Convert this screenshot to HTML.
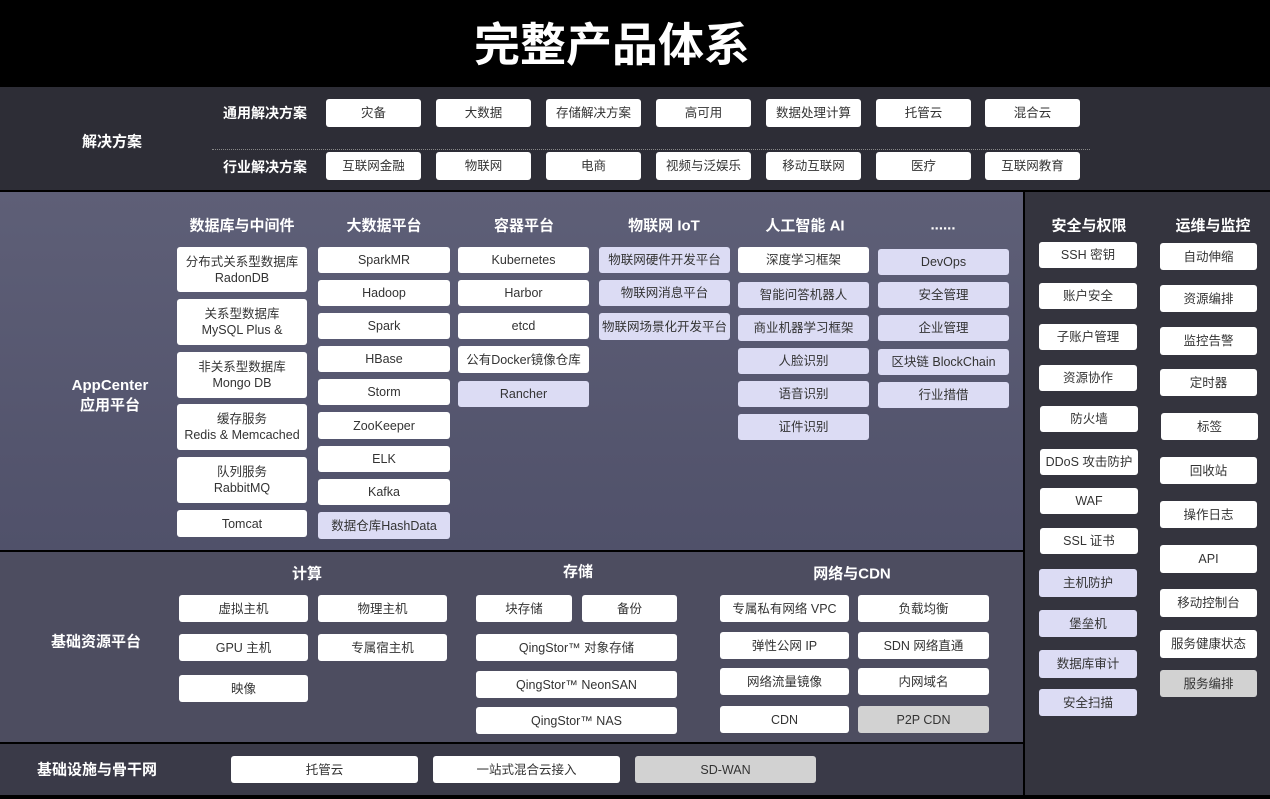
<!DOCTYPE html>
<html><head><meta charset="utf-8"><style>
*{margin:0;padding:0;box-sizing:border-box}
body{width:1270px;height:799px;background:#000;position:relative;overflow:hidden;font-family:"Liberation Sans","Noto Sans CJK SC",sans-serif}
.s{position:absolute}
.b{position:absolute;background:#fff;border-radius:3px;color:#333;font-size:12.5px;display:flex;align-items:center;justify-content:center;text-align:center;line-height:16px;white-space:nowrap}
.l{background:#dcdcf4}
.g{background:#d2d2d2}
.t{position:absolute;color:#fff;font-weight:bold;white-space:nowrap;transform:translate(-50%,-50%)}
</style></head><body>
<div class="t" style="left:612px;top:42px;font-size:46px">完整产品体系</div>
<div class="s" style="left:0;top:87px;width:1270px;height:103px;background:#2d2d36"></div>
<div class="s" style="left:0;top:192px;width:1023px;height:358px;background:linear-gradient(#5e5f77,#50516a)"></div>
<div class="s" style="left:0;top:552px;width:1023px;height:190px;background:#4d4d60"></div>
<div class="s" style="left:0;top:744px;width:1023px;height:51px;background:#3a3a48"></div>
<div class="s" style="left:1025px;top:192px;width:245px;height:603px;background:#34343e"></div>
<div class="s" style="left:212px;top:149px;width:878px;border-top:1px dotted #888"></div>

<div class="t" style="left:112px;top:141px;font-size:15px">解决方案</div>
<div class="t" style="left:265px;top:113px;font-size:14px">通用解决方案</div>
<div class="t" style="left:265px;top:167px;font-size:14px">行业解决方案</div>
<div class="b" style="left:326px;top:99px;width:95px;height:28px">灾备</div>
<div class="b" style="left:436px;top:99px;width:95px;height:28px">大数据</div>
<div class="b" style="left:546px;top:99px;width:95px;height:28px">存储解决方案</div>
<div class="b" style="left:656px;top:99px;width:95px;height:28px">高可用</div>
<div class="b" style="left:766px;top:99px;width:95px;height:28px">数据处理计算</div>
<div class="b" style="left:876px;top:99px;width:95px;height:28px">托管云</div>
<div class="b" style="left:985px;top:99px;width:95px;height:28px">混合云</div>
<div class="b" style="left:326px;top:152px;width:95px;height:28px">互联网金融</div>
<div class="b" style="left:436px;top:152px;width:95px;height:28px">物联网</div>
<div class="b" style="left:546px;top:152px;width:95px;height:28px">电商</div>
<div class="b" style="left:656px;top:152px;width:95px;height:28px">视频与泛娱乐</div>
<div class="b" style="left:766px;top:152px;width:95px;height:28px">移动互联网</div>
<div class="b" style="left:876px;top:152px;width:95px;height:28px">医疗</div>
<div class="b" style="left:985px;top:152px;width:95px;height:28px">互联网教育</div>

<div class="t" style="left:110px;top:396px;font-size:15px;text-align:center;line-height:20px">AppCenter<br>应用平台</div>
<div class="t" style="left:242px;top:225px;font-size:15px">数据库与中间件</div>
<div class="t" style="left:384px;top:225px;font-size:15px">大数据平台</div>
<div class="t" style="left:524px;top:225px;font-size:15px">容器平台</div>
<div class="t" style="left:664px;top:225px;font-size:15px">物联网 IoT</div>
<div class="t" style="left:805px;top:225px;font-size:15px">人工智能 AI</div>
<div class="t" style="left:943px;top:225px;font-size:15px">......</div>

<div class="b" style="left:177px;top:247px;width:130px;height:45px">分布式关系型数据库<br>RadonDB</div>
<div class="b" style="left:177px;top:299px;width:130px;height:46px">关系型数据库<br>MySQL Plus &amp;</div>
<div class="b" style="left:177px;top:352px;width:130px;height:46px">非关系型数据库<br>Mongo DB</div>
<div class="b" style="left:177px;top:404px;width:130px;height:46px">缓存服务<br>Redis &amp; Memcached</div>
<div class="b" style="left:177px;top:457px;width:130px;height:46px">队列服务<br>RabbitMQ</div>
<div class="b" style="left:177px;top:510px;width:130px;height:27px">Tomcat</div>

<div class="b" style="left:318px;top:247px;width:132px;height:26px">SparkMR</div>
<div class="b" style="left:318px;top:280px;width:132px;height:26px">Hadoop</div>
<div class="b" style="left:318px;top:313px;width:132px;height:26px">Spark</div>
<div class="b" style="left:318px;top:346px;width:132px;height:26px">HBase</div>
<div class="b" style="left:318px;top:379px;width:132px;height:26px">Storm</div>
<div class="b" style="left:318px;top:412px;width:132px;height:27px">ZooKeeper</div>
<div class="b" style="left:318px;top:446px;width:132px;height:26px">ELK</div>
<div class="b" style="left:318px;top:479px;width:132px;height:26px">Kafka</div>
<div class="b l" style="left:318px;top:512px;width:132px;height:27px">数据仓库HashData</div>

<div class="b" style="left:458px;top:247px;width:131px;height:26px">Kubernetes</div>
<div class="b" style="left:458px;top:280px;width:131px;height:26px">Harbor</div>
<div class="b" style="left:458px;top:313px;width:131px;height:26px">etcd</div>
<div class="b" style="left:458px;top:346px;width:131px;height:27px">公有Docker镜像仓库</div>
<div class="b l" style="left:458px;top:381px;width:131px;height:26px">Rancher</div>

<div class="b l" style="left:599px;top:247px;width:131px;height:26px">物联网硬件开发平台</div>
<div class="b l" style="left:599px;top:280px;width:131px;height:26px">物联网消息平台</div>
<div class="b l" style="left:599px;top:313px;width:131px;height:27px">物联网场景化开发平台</div>

<div class="b" style="left:738px;top:247px;width:131px;height:26px">深度学习框架</div>
<div class="b l" style="left:738px;top:282px;width:131px;height:26px">智能问答机器人</div>
<div class="b l" style="left:738px;top:315px;width:131px;height:26px">商业机器学习框架</div>
<div class="b l" style="left:738px;top:348px;width:131px;height:26px">人脸识别</div>
<div class="b l" style="left:738px;top:381px;width:131px;height:26px">语音识别</div>
<div class="b l" style="left:738px;top:414px;width:131px;height:26px">证件识别</div>

<div class="b l" style="left:878px;top:249px;width:131px;height:26px">DevOps</div>
<div class="b l" style="left:878px;top:282px;width:131px;height:26px">安全管理</div>
<div class="b l" style="left:878px;top:315px;width:131px;height:26px">企业管理</div>
<div class="b l" style="left:878px;top:349px;width:131px;height:26px">区块链 BlockChain</div>
<div class="b l" style="left:878px;top:382px;width:131px;height:26px">行业措借</div>

<div class="t" style="left:1089px;top:225px;font-size:15px">安全与权限</div>
<div class="t" style="left:1213px;top:225px;font-size:15px">运维与监控</div>
<div class="b" style="left:1039px;top:242px;width:98px;height:26px">SSH 密钥</div>
<div class="b" style="left:1039px;top:283px;width:98px;height:26px">账户安全</div>
<div class="b" style="left:1039px;top:324px;width:98px;height:26px">子账户管理</div>
<div class="b" style="left:1039px;top:365px;width:98px;height:26px">资源协作</div>
<div class="b" style="left:1040px;top:406px;width:98px;height:26px">防火墙</div>
<div class="b" style="left:1040px;top:449px;width:98px;height:26px">DDoS 攻击防护</div>
<div class="b" style="left:1040px;top:488px;width:98px;height:26px">WAF</div>
<div class="b" style="left:1040px;top:528px;width:98px;height:26px">SSL 证书</div>
<div class="b l" style="left:1039px;top:569px;width:98px;height:28px">主机防护</div>
<div class="b l" style="left:1039px;top:610px;width:98px;height:27px">堡垒机</div>
<div class="b l" style="left:1039px;top:650px;width:98px;height:28px">数据库审计</div>
<div class="b l" style="left:1039px;top:689px;width:98px;height:27px">安全扫描</div>

<div class="b" style="left:1160px;top:243px;width:97px;height:27px">自动伸缩</div>
<div class="b" style="left:1160px;top:285px;width:97px;height:27px">资源编排</div>
<div class="b" style="left:1160px;top:327px;width:97px;height:28px">监控告警</div>
<div class="b" style="left:1160px;top:369px;width:97px;height:27px">定时器</div>
<div class="b" style="left:1161px;top:413px;width:97px;height:27px">标签</div>
<div class="b" style="left:1160px;top:457px;width:97px;height:27px">回收站</div>
<div class="b" style="left:1160px;top:501px;width:97px;height:27px">操作日志</div>
<div class="b" style="left:1160px;top:545px;width:97px;height:28px">API</div>
<div class="b" style="left:1160px;top:589px;width:97px;height:28px">移动控制台</div>
<div class="b" style="left:1160px;top:630px;width:97px;height:28px">服务健康状态</div>
<div class="b g" style="left:1160px;top:670px;width:97px;height:27px">服务编排</div>

<div class="t" style="left:96px;top:641px;font-size:15px">基础资源平台</div>
<div class="t" style="left:307px;top:573px;font-size:15px">计算</div>
<div class="t" style="left:578px;top:571px;font-size:15px">存储</div>
<div class="t" style="left:852px;top:573px;font-size:15px">网络与CDN</div>
<div class="b" style="left:179px;top:595px;width:129px;height:27px">虚拟主机</div>
<div class="b" style="left:318px;top:595px;width:129px;height:27px">物理主机</div>
<div class="b" style="left:179px;top:634px;width:129px;height:27px">GPU 主机</div>
<div class="b" style="left:318px;top:634px;width:129px;height:27px">专属宿主机</div>
<div class="b" style="left:179px;top:675px;width:129px;height:27px">映像</div>
<div class="b" style="left:476px;top:595px;width:96px;height:27px">块存储</div>
<div class="b" style="left:582px;top:595px;width:95px;height:27px">备份</div>
<div class="b" style="left:476px;top:634px;width:201px;height:27px">QingStor™ 对象存储</div>
<div class="b" style="left:476px;top:671px;width:201px;height:27px">QingStor™ NeonSAN</div>
<div class="b" style="left:476px;top:707px;width:201px;height:27px">QingStor™ NAS</div>
<div class="b" style="left:720px;top:595px;width:129px;height:27px">专属私有网络 VPC</div>
<div class="b" style="left:858px;top:595px;width:131px;height:27px">负载均衡</div>
<div class="b" style="left:720px;top:632px;width:129px;height:27px">弹性公网 IP</div>
<div class="b" style="left:858px;top:632px;width:131px;height:27px">SDN 网络直通</div>
<div class="b" style="left:720px;top:668px;width:129px;height:27px">网络流量镜像</div>
<div class="b" style="left:858px;top:668px;width:131px;height:27px">内网域名</div>
<div class="b" style="left:720px;top:706px;width:129px;height:27px">CDN</div>
<div class="b g" style="left:858px;top:706px;width:131px;height:27px">P2P CDN</div>

<div class="t" style="left:97px;top:769px;font-size:15px">基础设施与骨干网</div>
<div class="b" style="left:231px;top:756px;width:187px;height:27px">托管云</div>
<div class="b" style="left:433px;top:756px;width:187px;height:27px">一站式混合云接入</div>
<div class="b g" style="left:635px;top:756px;width:181px;height:27px">SD-WAN</div>
</body></html>
